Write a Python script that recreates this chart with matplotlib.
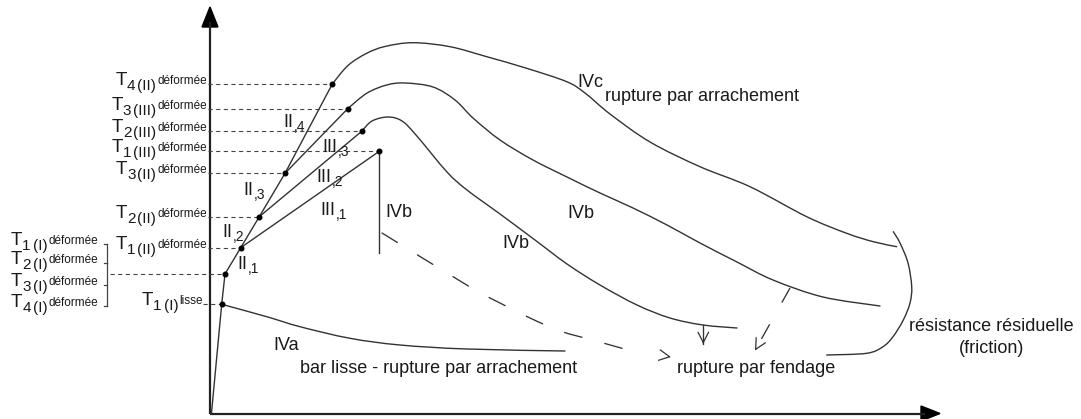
import matplotlib
matplotlib.use("Agg")
import matplotlib.pyplot as plt
import numpy as np
from matplotlib.path import Path
from matplotlib.patches import PathPatch, Polygon

plt.rcParams['font.family'] = ['Liberation Sans', 'DejaVu Sans']
plt.rcParams['lines.scale_dashes'] = False

# ---------------- data (schematic, pixel units, y downward) -------------
W, H = 1081, 419
axis_x0, axis_y0 = 210, 413.5          # origin of the schematic axes
axis_top, axis_right = 7, 940           # arrow tips

# characteristic points on the rising branches
pt_names = ['T1_I_lisse', 'T_I_def', 'T1_II', 'T2_II', 'T3_II', 'T4_II', 'T3_III', 'T2_III', 'T1_III']
pt_x = [221.7, 225.0, 240.7, 259.3, 285.0, 332.3, 347.7, 361.7, 379.3]
pt_y = [304.3, 274.0, 247.7, 216.7, 173.3, 84.0, 108.7, 131.3, 151.3]

# rising envelope (origin -> T4 II)
rise_x = [211.5, 221.7, 225.0, 240.7, 259.3, 285.0, 332.3]
rise_y = [413.0, 304.3, 274.0, 247.7, 216.7, 173.3, 84.0]

# straight branches III,1 / III,2 / III,3
branch_start_x = [240.7, 259.3, 285.0]
branch_start_y = [247.7, 216.7, 173.3]
branch_end_x = [379.3, 361.7, 347.7]
branch_end_y = [151.3, 131.3, 108.7]
ivb_drop_y = 252.7

# descending curves
top_x = [332.3, 348, 366.7, 385, 413, 450, 486.7, 526.7, 566.7, 585, 610, 650, 700, 750, 806.7, 846.7, 873.3, 896.7]
top_y = [84.0, 65.5, 53.3, 46.5, 42.7, 46.7, 56.7, 68.3, 81.7, 93, 114, 142, 166.7, 186.7, 216.7, 233.3, 241.7, 246.7]
mid_x = [347.7, 366.7, 386.7, 405, 433, 455, 473, 500, 533, 567, 600, 633, 667, 700, 737, 773, 823, 880]
mid_y = [108.7, 93.3, 85, 83, 87, 100, 118, 140, 160, 177, 193, 208, 225, 243, 262, 280, 297, 306]
low_x = [361.7, 372, 388, 402, 416, 447, 467, 500, 535, 567, 600, 637, 670, 703, 737]
low_y = [131.3, 121, 117, 121, 135, 172, 190, 214, 240, 264, 285, 305, 318, 325, 328]
iva_x = [221.7, 266.7, 300, 350, 400, 466.7, 565]
iva_y = [304.3, 316.7, 326.7, 338.3, 345, 349, 351]
resid_x = [893.3, 900, 908, 911.7, 910, 903.3, 893, 883, 866.7, 826.7]
resid_y = [231.7, 243, 263, 286.7, 303, 320, 336.7, 346.7, 353.3, 355]

# dashed arrows
dash1_x = [382, 470, 500, 530, 560, 596, 628, 671]
dash1_y = [233, 287, 303, 318, 331, 341, 350, 357]
dash2_x = [790, 755]
dash2_y = [288, 350.5]
small_arrow_x = [703.3, 703.3]
small_arrow_y = [325, 344]

# left labels: (index, phase, superscript, level y)
lvl_idx = ['4', '3', '2', '1', '3', '2', '1', '1']
lvl_phase = ['II', 'III', 'III', 'III', 'II', 'II', 'II', 'I']
lvl_sup = ['déformée'] * 7 + ['lisse']
lvl_y = [84.0, 108.7, 131.3, 151.3, 173.3, 216.7, 247.7, 304.3]
lvl_px = [332.3, 347.7, 361.7, 379.3, 285.0, 259.3, 240.7, 221.7]

brk_idx = ['1', '2', '3', '4']
brk_y = [244.3, 263.3, 285.0, 306.0]
brk_line_y = 274.0

# region labels
seg_labels = ['II', 'II', 'II', 'II', 'III', 'III', 'III']
seg_subs = ['1', '2', '3', '4', '1', '2', '3']
seg_x = [237, 222, 243, 283, 320, 316, 322]
seg_y = [269, 237, 195, 127, 215, 182, 152]

txt_labels = ['IVb', 'IVb', 'IVb', 'IVc', 'rupture par arrachement', 'IVa',
              'bar lisse - rupture par arrachement', 'rupture par fendage']
txt_x = [385, 502, 567, 577, 605, 273, 300, 677]
txt_y = [217, 248, 218, 86.7, 101, 350, 373, 373]

resid_label = ['résistance résiduelle', '(friction)']
resid_lx = [991.5, 992]
resid_ly = [331, 353]

# ---------------- drawing ----------------
LC = '#333333'
TC = '#1a1a1a'
fig = plt.figure(figsize=(W / 100, H / 100), dpi=100)
ax = fig.add_axes([0, 0, 1, 1])
ax.set_xlim(0, W)
ax.set_ylim(H, 0)
ax.axis('off')
renderer = fig.canvas.get_renderer()


def smooth_path(xs, ys):
    P = np.column_stack([xs, ys]).astype(float)
    n = len(P)
    verts = [P[0]]
    codes = [Path.MOVETO]
    for i in range(n - 1):
        p0 = P[i - 1] if i > 0 else P[i]
        p1, p2 = P[i], P[i + 1]
        p3 = P[i + 2] if i + 2 < n else P[i + 1]
        verts += [p1 + (p2 - p0) / 6, p2 - (p3 - p1) / 6, p2]
        codes += [Path.CURVE4] * 3
    return Path(verts, codes)


def curve(xs, ys, **kw):
    ax.add_patch(PathPatch(smooth_path(xs, ys), fill=False, capstyle='round', **kw))


def arrowhead(xs, ys, color=LC):
    tip = np.array([xs[-1], ys[-1]], float)
    prev = np.array([xs[-2], ys[-2]], float)
    d = (tip - prev) / np.hypot(*(tip - prev))
    tail = tip - 2 * d
    ax.annotate('', xy=tip, xytext=tail,
                arrowprops=dict(arrowstyle='->,head_length=0.75,head_width=0.38', color=color,
                                lw=0.9, shrinkA=0, shrinkB=0, mutation_scale=10))


# axes
ax.plot([axis_x0, axis_x0], [axis_y0, axis_top + 15], color='#222', lw=1.6, solid_capstyle='butt')
ax.plot([axis_x0, axis_right - 15], [axis_y0, axis_y0], color='#222', lw=1.6, solid_capstyle='butt')
ax.add_patch(Polygon([[axis_x0, axis_top], [axis_x0 - 8, axis_top + 20], [axis_x0 + 8, axis_top + 20]],
                     closed=True, color='black'))
ax.add_patch(Polygon([[axis_right, axis_y0], [axis_right - 19, axis_y0 - 7.5], [axis_right - 19, axis_y0 + 7.5]],
                     closed=True, color='black'))

# dashed level lines
for y, px, sup in zip(lvl_y, lvl_px, lvl_sup):
    x0 = 203 if sup == 'lisse' else 208
    ax.plot([x0, px], [y, y], color='#444', lw=0.8, dashes=(3, 2.5))
ax.plot([110, pt_x[1]], [brk_line_y, brk_line_y], color='#444', lw=0.8, dashes=(3, 2.5))

# bracket
ax.plot([107.3, 107.3], [brk_y[0], brk_y[-1]], color='#444', lw=0.9)
for y in brk_y:
    ax.plot([103.5, 107.3], [y, y], color='#444', lw=0.9)

# rising envelope and branches
ax.plot(rise_x, rise_y, color=LC, lw=1.0)
for xs, ys, xe, ye in zip(branch_start_x, branch_start_y, branch_end_x, branch_end_y):
    ax.plot([xs, xe], [ys, ye], color=LC, lw=1.0)
ax.plot([branch_end_x[0], branch_end_x[0]], [branch_end_y[0], ivb_drop_y], color=LC, lw=1.0)

# curves
for xs, ys in [(top_x, top_y), (mid_x, mid_y), (low_x, low_y), (iva_x, iva_y), (resid_x, resid_y)]:
    curve(xs, ys, ec=LC, lw=1.0)

# dashed arrows
curve(dash1_x[:-1], dash1_y[:-1], ec=LC, lw=0.95, linestyle=(0, (13, 17)))
arrowhead(dash1_x, dash1_y)
ax.plot(dash2_x, dash2_y, color=LC, lw=0.95, dashes=(12, 18), dash_capstyle='butt')
arrowhead(dash2_x, dash2_y)
ax.plot(small_arrow_x, small_arrow_y, color=LC, lw=0.95)
arrowhead(small_arrow_x, small_arrow_y)

# points
ax.plot(pt_x, pt_y, 'o', ms=3.3, color='black', zorder=5)


# composite T labels
def t_label(x_right, y_line, idx, phase, sup):
    pieces = [(sup, 8.5, y_line, 1.0), ('(' + phase + ')', 11, y_line + 6, 2.0),
              (idx, 11, y_line + 6, 0.0), ('T', 13.5, y_line + 1, 0.0)]
    x = x_right
    for s, fs, yb, gap in pieces:
        t = ax.text(x, yb, s, fontsize=fs, ha='right', va='baseline', color=TC)
        bb = t.get_window_extent(renderer)
        x = x - bb.width - gap


for idx, ph, sup, y in zip(lvl_idx, lvl_phase, lvl_sup, lvl_y):
    t_label(203 if sup == 'lisse' else 207, y, idx, ph, sup)
for idx, y in zip(brk_idx, brk_y):
    t_label(98, y, idx, 'I', 'déformée')

# segment labels: main part + lowered ",n"
for s, sub, x, y in zip(seg_labels, seg_subs, seg_x, seg_y):
    t = ax.text(x, y, s, fontsize=13, ha='left', va='baseline', color=TC)
    bb = t.get_window_extent(renderer)
    ax.text(x + bb.width + 0.5, y + 4, ',' + sub, fontsize=10, ha='left', va='baseline', color=TC)

for s, x, y in zip(txt_labels, txt_x, txt_y):
    ax.text(x, y, s, fontsize=13, ha='left', va='baseline', color=TC)
for s, x, y in zip(resid_label, resid_lx, resid_ly):
    ax.text(x, y, s, fontsize=13, ha='center', va='baseline', color=TC)

fig.savefig('out.png', dpi=100)
